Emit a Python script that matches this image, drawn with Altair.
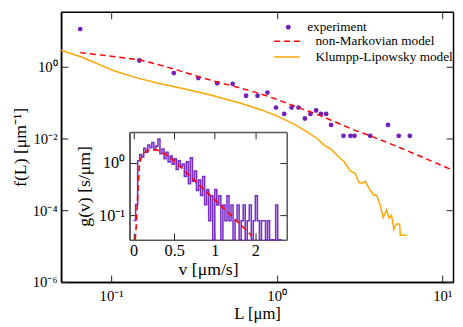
import altair as alt
import pandas as pd

# ---------------- data ----------------
exp_L = [0.065, 0.148, 0.239, 0.336, 0.437, 0.542, 0.653, 0.766, 0.879, 0.99,
         1.11, 1.23, 1.355, 1.48, 1.60, 1.73, 1.85, 1.99, 2.13, 2.53,
         2.79, 2.95, 3.67, 4.70, 5.46, 6.37]
exp_f = [11.1, 1.48, 0.66, 0.477, 0.343, 0.33, 0.154, 0.154, 0.189, 0.072,
         0.048, 0.072, 0.072, 0.0358, 0.048, 0.0597, 0.048, 0.048, 0.0237, 0.0118,
         0.0118, 0.0118, 0.0118, 0.0237, 0.0118, 0.0118]

nm_L = [0.065, 0.1, 0.148, 0.2, 0.24, 0.336, 0.437, 0.54, 0.766, 0.99,
        1.355, 1.73, 2.13, 2.95, 3.67, 5.46, 6.37, 11.6]
nm_f = [2.45, 1.95, 1.55, 1.08, 0.85, 0.53, 0.37, 0.29, 0.185, 0.125,
        0.072, 0.048, 0.032, 0.017, 0.0118, 0.0057, 0.0042, 0.0013]

kl_L = [0.0498, 0.0667, 0.105, 0.1445, 0.190, 0.274, 0.394, 0.621, 0.816, 1.026,
        1.29, 1.55, 1.77, 1.94, 2.13, 2.38, 2.55, 2.79, 2.99, 3.13,
        3.28, 3.43, 3.67, 3.84, 4.02, 4.21, 4.40, 4.61, 4.78, 4.94,
        5.10, 5.28, 5.53, 5.58, 6.10]
kl_f = [2.85, 1.82, 0.75, 0.477, 0.35, 0.242, 0.164, 0.092, 0.061, 0.0405,
        0.0242, 0.0145, 0.0096, 0.0064, 0.0050, 0.00298, 0.00227, 0.00122, 0.00105, 0.000598,
        0.000562, 0.000637, 0.000357, 0.000273, 0.000257, 0.000141, 0.0000623, 0.0001, 0.0000597, 0.0000718,
        0.0000292, 0.0000412, 0.0000412, 0.0000201, 0.0000201]

hist_v = [0.000, 0.025, 0.050, 0.075, 0.100, 0.125, 0.150, 0.175, 0.200, 0.225,
          0.250, 0.275, 0.300, 0.325, 0.350, 0.375, 0.400, 0.425, 0.450, 0.475,
          0.500, 0.525, 0.550, 0.575, 0.600, 0.625, 0.650, 0.675, 0.700, 0.725,
          0.750, 0.775, 0.800, 0.825, 0.850, 0.875, 0.900, 0.925, 0.950, 0.975,
          1.000, 1.025, 1.050, 1.075, 1.100, 1.125, 1.150, 1.175, 1.200, 1.225,
          1.250, 1.275, 1.300, 1.325, 1.350, 1.375, 1.400, 1.425, 1.450, 1.475,
          1.500, 1.525, 1.550, 1.575, 1.600, 1.625, 1.650, 1.675, 1.700, 1.725,
          1.750, 1.775, 1.800, 1.825]
hist_g = [0.08, 0.16, 1.10, 1.45, 1.30, 1.90, 1.60, 2.20, 1.95, 2.45,
          1.80, 2.10, 2.85, 1.50, 1.85, 1.20, 1.60, 1.05, 1.35, 0.95,
          1.20, 0.75, 1.10, 0.85, 0.95, 0.55, 1.05, 0.40, 1.25, 0.45,
          0.70, 0.30, 0.47, 0.24, 0.55, 0.16, 0.31, 0.079, 0.236, 0.0,
          0.31, 0.157, 0.236, 0.0, 0.157, 0.079, 0.236, 0.079, 0.157, 0.0,
          0.079, 0.157, 0.0, 0.079, 0.157, 0.0, 0.079, 0.157, 0.0, 0.079,
          0.236, 0.079, 0.0, 0.079, 0.079, 0.0, 0.079, 0.0, 0.0, 0.0,
          0.157, 0.0, 0.0, 0.0]

fit_v = [0.02, 0.03, 0.04, 0.05, 0.06, 0.07, 0.08, 0.10, 0.15, 0.20,
         0.25, 0.30, 0.40, 0.50, 0.60, 0.70, 0.80, 0.90, 1.00, 1.10,
         1.20, 1.30, 1.40, 1.46]
fit_g = [0.034, 0.055, 0.10, 0.22, 0.45, 0.85, 1.05, 1.35, 1.65, 1.78,
         1.80, 1.75, 1.45, 1.10, 0.78, 0.55, 0.39, 0.28, 0.20, 0.14,
         0.10, 0.07, 0.05, 0.04]

# ---------------- layout ----------------
W, H = 399, 275
FONT = "Liberation Serif, Times New Roman, serif"
IND = "#7221BC"
RED = "#FF0000"
ORA = "#FFA500"

exp_df = pd.DataFrame({"L": exp_L, "f": exp_f, "lab": "experiment"})
nm_df = pd.DataFrame({"L": nm_L, "f": nm_f, "lab": "non-Markovian model"})
kl_df = pd.DataFrame({"L": kl_L, "f": kl_f, "lab": "Klumpp-Lipowsky model"})
hist_df = pd.DataFrame({"v": hist_v, "g": hist_g})
fit_df = pd.DataFrame({"v": fit_v, "g": fit_g})

xm = alt.Scale(type="log", domain=[0.0498, 11.62], nice=False)
ym = alt.Scale(type="log", domain=[1e-6, 33.7], nice=False)

IX0, IX1 = 69.7, 229.7
IY0, IY1 = 232.2, 122.3
xi = alt.Scale(domain=[-0.05, 1.886], range=[IX0, IX1], nice=False, zero=False)
yi = alt.Scale(type="log", domain=[0.034, 3.92], range=[IY0, IY1], nice=False)

MX_VALS = [0.1, 1, 10]
MY_VALS = [1e-6, 1e-4, 1e-2, 1]
IX_VALS = [0, 0.5, 1, 1.5]
IY_VALS = [0.1, 1]

mx_expr = "datum.value < 0.5 ? '10⁻¹' : datum.value < 5 ? '10⁰' : '10¹'"
my_expr = ("datum.value < 1e-5 ? '10⁻⁶' : datum.value < 1e-3 ? '10⁻⁴' : "
           "datum.value < 0.1 ? '10⁻²' : '10⁰'")
ix_expr = ("datum.value == 0 ? '0' : datum.value == 0.5 ? '0.5' : "
           "datum.value == 1 ? '1' : '2'")
iy_expr = "datum.value < 0.5 ? '10⁻¹' : '10⁰'"


def label_axis(orient, values, expr, title, offset=0, lsize=15, tsize=17,
               lpad=6, tpad=4, dcolor="black"):
    return alt.Axis(orient=orient, offset=offset, values=values, labelExpr=expr,
                    ticks=False, tickSize=0, domain=True, domainColor=dcolor,
                    domainWidth=1.5, grid=False, title=title, labelFont=FONT,
                    labelFontSize=lsize, labelColor="black", labelPadding=lpad,
                    labelFlush=False, labelOverlap=False, titleFont=FONT,
                    titleFontSize=tsize, titleFontWeight="normal",
                    titleColor="black", titlePadding=tpad)


def tick_axis(orient, values, offset, dcolor="black", tcolor="#222"):
    return alt.Axis(orient=orient, offset=offset, values=values, labels=False,
                    ticks=True, tickSize=7, tickWidth=1, tickColor=tcolor,
                    domain=True, domainColor=dcolor, domainWidth=1.5,
                    grid=False, title=None)


def leg(x, y, stype, ssize, offset, dash=None, fill=None, sw=1.5):
    kw = dict(orient="none", legendX=x, legendY=y, title=None, labelFont=FONT,
              labelFontSize=13.5, labelColor="black", symbolType=stype,
              symbolSize=ssize, labelOffset=offset, padding=0,
              symbolStrokeWidth=sw)
    if dash is not None:
        kw["symbolDash"] = dash
    if fill is not None:
        kw["symbolFillColor"] = fill
    return alt.Legend(**kw)


# main: experiment points with labelled axes
pts = alt.Chart(exp_df).mark_circle(size=24, opacity=1).encode(
    x=alt.X("L:Q", scale=xm, axis=label_axis("bottom", MX_VALS, mx_expr, "L [μm]",
                                             lpad=7, tpad=2)),
    y=alt.Y("f:Q", scale=ym, axis=label_axis("left", MY_VALS, my_expr, "f(L) [μm⁻¹]",
                                             lpad=4, tpad=3, tsize=18)),
    color=alt.Color("lab:N", scale=alt.Scale(domain=["experiment"], range=[IND]),
                    legend=leg(224.5, 9, "circle", 25, 12.5, fill=IND, sw=0)),
)

nm = alt.Chart(nm_df).mark_line(strokeWidth=1.5, strokeDash=[6, 4], clip=True).encode(
    x=alt.X("L:Q", scale=xm, axis=tick_axis("top", MX_VALS, -H)),
    y=alt.Y("f:Q", scale=ym, axis=tick_axis("right", MY_VALS, -W)),
    color=alt.Color("lab:N", scale=alt.Scale(domain=["non-Markovian model"], range=[RED]),
                    legend=leg(216, 16, "stroke", 676, 15, dash=[6, 4])),
)

kl = alt.Chart(kl_df).mark_line(strokeWidth=1.5, clip=True).encode(
    x=alt.X("L:Q", scale=xm, axis=tick_axis("bottom", MX_VALS, -H)),
    y=alt.Y("f:Q", scale=ym, axis=tick_axis("left", MY_VALS, -W)),
    color=alt.Color("lab:N", scale=alt.Scale(domain=["Klumpp-Lipowsky model"], range=[ORA]),
                    legend=leg(216, 32, "stroke", 676, 15)),
)

# inset
ICOL = "#555555"
hist = alt.Chart(hist_df).transform_calculate(
    gp="max(datum.g, 0.034)"
).mark_line(interpolate="step-after", strokeWidth=1.6, color="#7a30c8").encode(
    x=alt.X("v:Q", scale=xi, axis=label_axis("bottom", IX_VALS, ix_expr, "v [μm/s]",
                                             offset=-(H - IY0), lsize=16.5, tsize=18,
                                             lpad=3, tpad=2, dcolor=ICOL)),
    y=alt.Y("gp:Q", scale=yi, axis=label_axis("left", IY_VALS, iy_expr, "g(v) [s/μm]",
                                              offset=-IX0, lsize=16.5, tsize=18,
                                              lpad=5, tpad=4, dcolor=ICOL)),
)

fit = alt.Chart(fit_df).mark_line(strokeWidth=1.6, strokeDash=[6, 4], color=RED).encode(
    x=alt.X("v:Q", scale=xi, axis=tick_axis("top", IX_VALS, -IY0, dcolor=ICOL)),
    y=alt.Y("g:Q", scale=yi, axis=tick_axis("right", IY_VALS, -(W - IX0), dcolor=ICOL)),
)

frame = alt.Chart(fit_df).mark_line(strokeOpacity=0).encode(
    x=alt.X("v:Q", scale=xi, axis=tick_axis("bottom", IX_VALS, -(H - IY1), dcolor=ICOL)),
    y=alt.Y("g:Q", scale=yi, axis=tick_axis("left", IY_VALS, -IX1, dcolor=ICOL)),
)

chart = alt.layer(pts, nm, kl, hist, fit, frame).resolve_scale(
    x="independent", y="independent", color="independent"
).properties(
    width=W, height=H,
    padding={"left": 54, "top": 1, "right": 2, "bottom": 40},
    autosize=alt.AutoSizeParams(type="none"),
).configure_view(stroke=None).configure(background="white")

chart.save("out.html", embed_options={"renderer": "svg", "actions": False})
